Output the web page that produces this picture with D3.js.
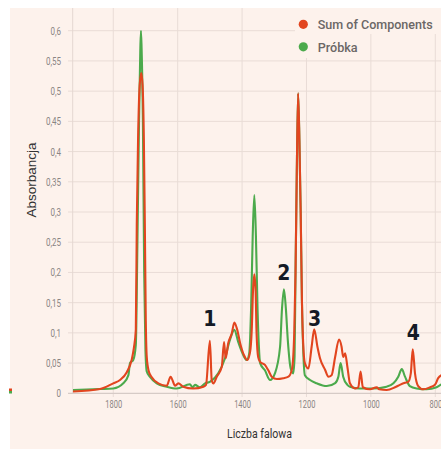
<!DOCTYPE html>
<html><head><meta charset="utf-8">
<script src="https://cdnjs.cloudflare.com/ajax/libs/d3/7.8.5/d3.min.js"></script>
<style>
body{margin:0;background:#fff;}
svg{display:block;}
</style></head>
<body>
<svg id="c" width="441" height="449"></svg>
<script>
// ---- data (wavenumber cm-1, absorbance) ----
const seriesNames = ["Sum of Components", "Próbka"];
const yTicks = [0,0.05,0.1,0.15,0.2,0.25,0.3,0.35,0.4,0.45,0.5,0.55,0.6];
const xTicks = [1800,1600,1400,1200,1000,800];
const peakLabels = ["1","2","3","4"];
const peakLabelPos = [[1500,0.112],[1270,0.188],[1175,0.112],[868,0.088]];

const sumWave = [1925,1841,1800,1779,1758,1743,1736,1730,1727,1723,1718,1713,1709,1705,1702,1699,1696,1690,1681,1660,1634,1622,1608,1598,1583,1552,1520,1512,1500,1494,1489,1479,1463,1456,1451,1443,1432,1424,1415,1406,1394,1384,1375,1370,1366,1362,1358,1355,1350,1344,1329,1319,1308,1292,1272,1256,1245,1238,1234,1230,1226,1222,1218,1214,1210,1205,1194,1184,1176,1166,1158,1142,1132,1122,1111,1099,1091,1086,1080,1073,1065,1049,1039,1032,1025,1003,982,974,951,925,910,894,884,876,870,863,853,837,816,801,791,781];
const sumVals = [0.003,0.007,0.0165,0.022,0.035,0.055,0.075,0.105,0.28,0.42,0.51,0.53,0.51,0.42,0.28,0.12,0.06,0.037,0.027,0.0165,0.0126,0.0275,0.0126,0.0165,0.011,0.008,0.011,0.014,0.087,0.02,0.0165,0.027,0.044,0.085,0.058,0.083,0.099,0.117,0.105,0.083,0.063,0.055,0.069,0.105,0.17,0.197,0.17,0.1,0.06,0.052,0.047,0.0385,0.0275,0.0236,0.025,0.0275,0.04,0.1,0.2,0.37,0.4965,0.42,0.3,0.15,0.08,0.05,0.041,0.077,0.106,0.077,0.058,0.0385,0.0275,0.03,0.06,0.089,0.077,0.06,0.066,0.044,0.0165,0.008,0.01,0.036,0.01,0.0066,0.01,0.0066,0.0055,0.01,0.014,0.0175,0.019,0.033,0.073,0.033,0.012,0.0066,0.01,0.014,0.025,0.03];

const sampleWave = [1925,1841,1800,1769,1753,1748,1738,1730,1725,1720,1716,1714,1712,1708,1704,1700,1696,1686,1665,1634,1603,1562,1554,1546,1531,1515,1500,1474,1453,1438,1424,1412,1401,1386,1378,1375,1372,1367,1362,1357,1352,1348,1344,1329,1313,1298,1282,1276,1270,1264,1258,1249,1241,1237,1234,1230,1226,1222,1218,1214,1210,1205,1189,1168,1137,1111,1101,1094,1086,1073,1065,1034,993,951,930,915,904,894,879,858,827,796,781];
const sampleVals = [0.0055,0.007,0.008,0.0165,0.03,0.05,0.055,0.08,0.25,0.45,0.57,0.6,0.57,0.45,0.2,0.07,0.036,0.027,0.0165,0.011,0.008,0.015,0.01,0.014,0.01,0.0165,0.019,0.033,0.058,0.088,0.105,0.085,0.069,0.055,0.065,0.09,0.14,0.26,0.328,0.26,0.14,0.08,0.05,0.038,0.022,0.033,0.077,0.14,0.172,0.14,0.088,0.041,0.033,0.06,0.2,0.37,0.4965,0.42,0.3,0.15,0.07,0.03,0.022,0.0165,0.012,0.017,0.0275,0.05,0.0275,0.014,0.011,0.008,0.008,0.011,0.0165,0.0275,0.04,0.0275,0.012,0.008,0.0066,0.01,0.015];

const colors = ["#e2451f", "#4caa4c"];

// ---- layout ----
const svg = d3.select("#c");
const bg = "#fdf2ec";
const x = d3.scaleLinear().domain([1926, 781]).range([72.7, 441.4]);
const y = d3.scaleLinear().domain([0, 0.6]).range([393.3, 30.7]);
const topY = 8;

svg.append("rect").attr("x",10).attr("y",topY).attr("width",431).attr("height",441).attr("fill",bg);

// grid
const grid = svg.append("g");
grid.selectAll("line.h").data(yTicks.filter(d=>d>0)).join("line")
  .attr("x1",68).attr("x2",441).attr("y1",d=>y(d)).attr("y2",d=>y(d))
  .attr("stroke","#e9dcd6").attr("stroke-width",1);
grid.selectAll("line.v").data(xTicks).join("line")
  .attr("x1",d=>x(d)).attr("x2",d=>x(d)).attr("y1",topY).attr("y2",397)
  .attr("stroke","#e9dcd6").attr("stroke-width",1);
grid.append("line").attr("x1",x(1926)).attr("x2",x(1926)).attr("y1",topY).attr("y2",393.3)
  .attr("stroke","#e4d7d1");
grid.append("line").attr("x1",68).attr("x2",441).attr("y1",y(0)).attr("y2",y(0))
  .attr("stroke","#d6cbc6").attr("stroke-width",1.2);

// legend background patches
svg.append("rect").attr("x",295).attr("y",topY).attr("width",146).attr("height",26).attr("fill",bg);
svg.append("rect").attr("x",295).attr("y",topY+25).attr("width",73).attr("height",25).attr("fill",bg);

// axes labels
const yAxis = d3.axisLeft(y).tickValues(yTicks).tickSize(0).tickPadding(0)
  .tickFormat(d=>d3.format("~g")(d).replace(".",","));
const gy = svg.append("g").attr("transform","translate(61,0)").call(yAxis);
gy.select(".domain").remove();
gy.selectAll("text").attr("fill","#8a8584").attr("font-family","Roboto, sans-serif")
  .attr("font-size",10).attr("dy","0.35em").attr("transform","scale(0.8,1)");

const xAxis = d3.axisBottom(x).tickValues(xTicks).tickSize(0).tickPadding(0).tickFormat(d3.format("d"));
const gx = svg.append("g").attr("transform","translate(0,404)").call(xAxis);
gx.select(".domain").remove();
gx.selectAll("text").attr("fill","#8a8584").attr("font-family","Roboto, sans-serif")
  .attr("font-size",10).attr("dy","0.35em").attr("transform","scale(0.75,1)");

// lines
const sampleData = sampleWave.map((w,i)=>[w,sampleVals[i]]);
const sumData = sumWave.map((w,i)=>[w,sumVals[i]]);
const line = d3.line().x(d=>x(d[0])).y(d=>y(d[1])).curve(d3.curveMonotoneX);
svg.append("path").datum(sampleData).attr("d",line).attr("fill","none")
  .attr("stroke",colors[1]).attr("stroke-width",2.1).attr("stroke-linejoin","round");
svg.append("path").datum(sumData).attr("d",line).attr("fill","none")
  .attr("stroke",colors[0]).attr("stroke-width",2.1).attr("stroke-linejoin","round");

// peak labels
svg.selectAll("text.pk").data(peakLabels).join("text")
  .attr("x",(d,i)=>x(peakLabelPos[i][0])).attr("y",(d,i)=>y(peakLabelPos[i][1]))
  .attr("text-anchor","middle").attr("font-family","'DejaVu Sans Condensed', 'DejaVu Sans', sans-serif")
  .attr("font-weight","bold").attr("font-size",21).attr("fill","#141a26").text(d=>d);

// legend
const lg = svg.append("g");
seriesNames.forEach((n,i)=>{
  lg.append("circle").attr("cx",303.3).attr("cy",24.3+i*22.5).attr("r",4.6).attr("fill",colors[i]);
  lg.append("text").attr("x",317.7).attr("y",29+i*22.5).attr("font-family","Roboto, sans-serif")
    .attr("font-weight",500).attr("font-size",13.5).attr("fill","#6b6766")
    .attr("textLength", i===0?115:40).attr("lengthAdjust","spacingAndGlyphs").text(n);
});

// axis titles
svg.append("text").attr("transform","translate(36,180) rotate(-90)").attr("text-anchor","middle")
  .attr("font-family","'Liberation Sans', Arial, sans-serif").attr("font-size",13.5).attr("fill","#333")
  .text("Absorbancja");
svg.append("text").attr("x",227).attr("y",438).attr("font-family","Roboto, sans-serif")
  .attr("font-size",13).attr("fill","#333").attr("textLength",65).attr("lengthAdjust","spacingAndGlyphs")
  .text("Liczba falowa");

// small marker at the left border
svg.append("rect").attr("x",9).attr("y",388.5).attr("width",3).attr("height",2.5).attr("fill",colors[0]);
svg.append("rect").attr("x",9).attr("y",391).attr("width",3).attr("height",2.5).attr("fill",colors[1]);
</script>
</body></html>
